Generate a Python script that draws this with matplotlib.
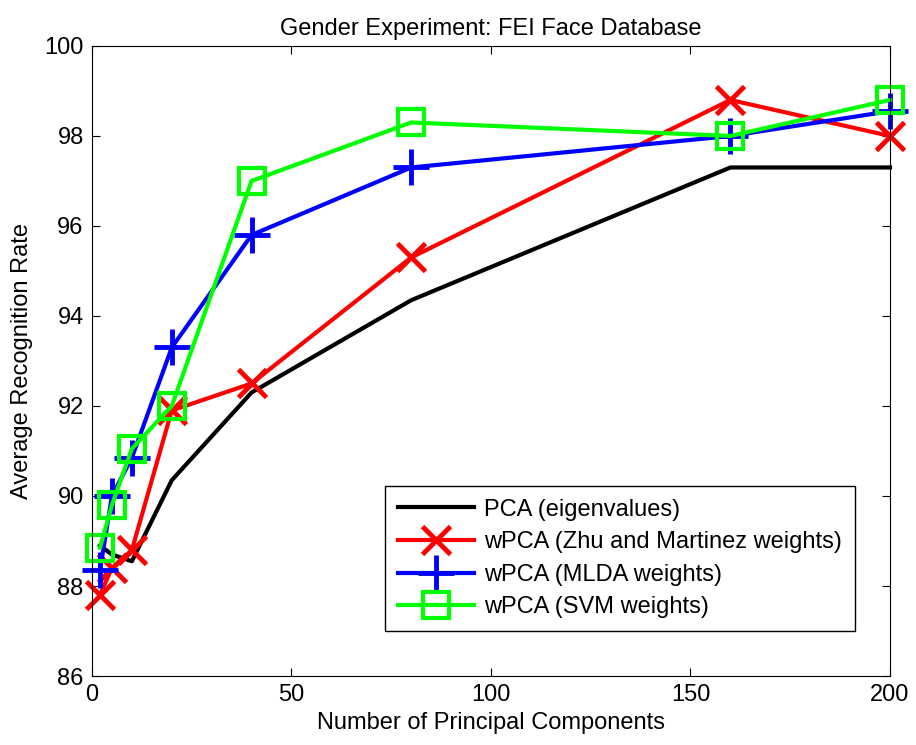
import matplotlib
matplotlib.use('Agg')
import matplotlib.pyplot as plt

plt.rcParams['font.family'] = ['Liberation Sans', 'DejaVu Sans']

# Datos
components = [2, 5, 10, 20, 40, 80, 160, 200]
pca_eig = [88.9, 88.7, 88.55, 90.35, 92.3, 94.35, 97.3, 97.3]
wpca_zhu = [87.8, 88.4, 88.8, 91.9, 92.5, 95.3, 98.8, 98.0]
wpca_mlda = [88.35, 90.0, 90.85, 93.3, 95.8, 97.3, 98.0, 98.55]
wpca_svm = [88.85, 89.8, 91.05, 92.0, 97.0, 98.3, 98.0, 98.8]

labels = ['PCA (eigenvalues)',
          'wPCA (Zhu and Martinez weights)',
          'wPCA (MLDA weights)',
          'wPCA (SVM weights)']

fig = plt.figure(figsize=(9.16, 7.45), dpi=100)
ax = fig.add_axes([0.1004, 0.0926, 0.8712, 0.8457])

lw = 3
ax.plot(components, pca_eig, color='black', lw=lw, label=labels[0], clip_on=False)
ax.plot(components, wpca_zhu, color='red', lw=lw, marker='x', ms=20, mew=3.5,
        label=labels[1], clip_on=False)
ax.plot(components, wpca_mlda, color='blue', lw=lw, marker='+', ms=26, mew=3.5,
        label=labels[2], clip_on=False)
ax.plot(components, wpca_svm, color='#00ff00', lw=lw, marker='s', ms=19, mew=3,
        mfc='none', label=labels[3], clip_on=False)

ax.set_xlim(0, 200)
ax.set_ylim(86, 100)
ax.set_xticks([0, 50, 100, 150, 200])
ax.set_yticks(range(86, 101, 2))
ax.tick_params(direction='in', labelsize=17, top=True, right=True, length=6, pad=6)
ax.set_xlabel('Number of Principal Components', fontsize=17, labelpad=4)
ax.set_ylabel('Average Recognition Rate', fontsize=17, labelpad=8)
ax.set_title('Gender Experiment: FEI Face Database', fontsize=17, pad=8)

leg = ax.legend(loc='lower right', bbox_to_anchor=(0.971, 0.052), fontsize=17,
                fancybox=False, framealpha=1, edgecolor='black',
                handlelength=3.2, borderpad=0.55, labelspacing=0.45, handletextpad=0.45)
leg.get_frame().set_linewidth(1)

fig.savefig('out.png', dpi=100)
